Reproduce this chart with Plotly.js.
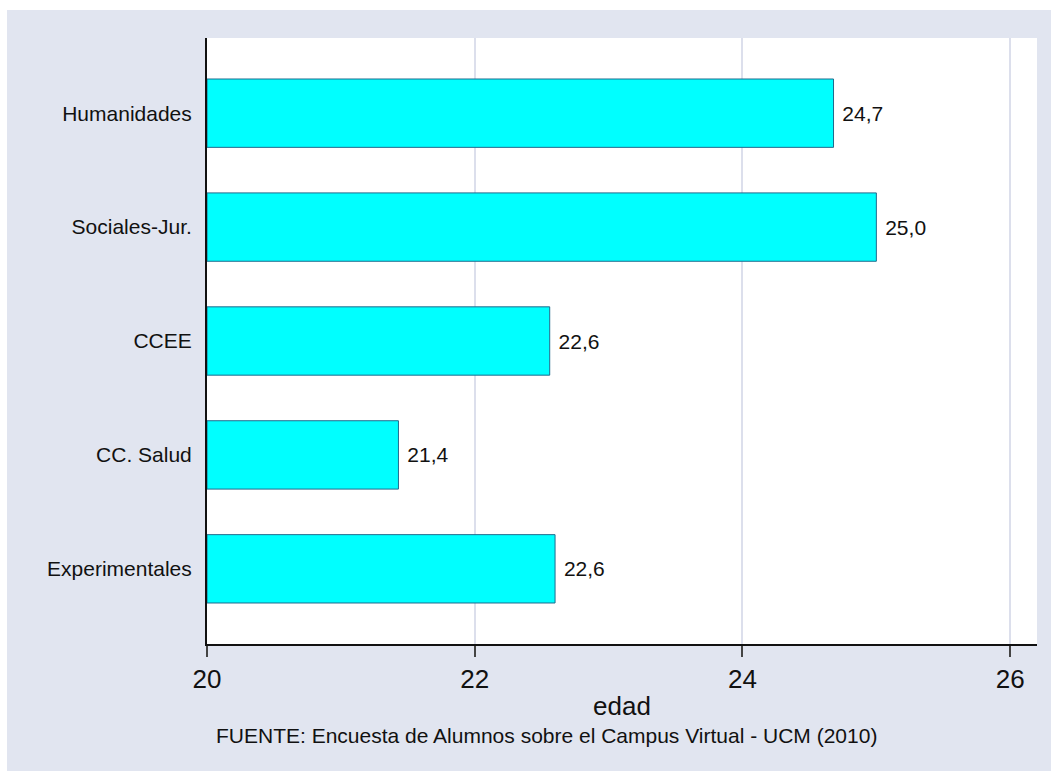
<!DOCTYPE html>
<html>
<head>
<meta charset="utf-8">
<script src="https://cdn.plot.ly/plotly-3.0.1.min.js"></script>
<style>html,body{margin:0;padding:0;background:#fff;}#chart{width:1051px;height:771px;}</style>
</head>
<body>
<div id="chart"></div>
<script>
const categories = ["Humanidades", "Sociales-Jur.", "CCEE", "CC. Salud", "Experimentales"];
const edadValues = [24.68, 25.0, 22.56, 21.43, 22.6];
const edadLabels = ["24,7", "25,0", "22,6", "21,4", "22,6"];
const xTicks = [20, 22, 24, 26];
const sourceNote = "FUENTE: Encuesta de Alumnos sobre el Campus Virtual - UCM (2010)";

const font = "Liberation Sans, Arial, sans-serif";

const trace = {
  type: "bar",
  orientation: "h",
  y: categories,
  x: edadValues,
  base: 20,
  text: edadLabels.map(t => "\u00a0" + t),
  textposition: "outside",
  constraintext: "none",
  cliponaxis: false,
  textfont: {family: font, size: 21, color: "#111"},
  marker: {color: "#00FFFF", line: {color: "#1F6A8C", width: 1}},
  width: 0.6,
  hoverinfo: "skip"
};
trace.x = edadValues.map(v => v - 20);

const layout = {
  width: 1051, height: 771, autosize: false,
  margin: {l: 207, r: 14, t: 38, b: 127, pad: 0},
  paper_bgcolor: "#E1E5F0",
  plot_bgcolor: "#FFFFFF",
  showlegend: false,
  font: {family: font, color: "#111"},
  xaxis: {
    range: [20, 26.2],
    tickvals: xTicks,
    ticktext: xTicks.map(String),
    tickfont: {family: font, size: 26, color: "#111"},
    ticks: "outside", ticklen: 11, tickwidth: 2, tickcolor: "#444",
    showgrid: true, gridcolor: "#DCDFEC", gridwidth: 2,
    showline: true, linecolor: "#111", linewidth: 2,
    zeroline: false,
    title: {text: "edad", font: {family: font, size: 26, color: "#111"}, standoff: 4}
  },
  yaxis: {
    type: "category",
    range: [4.66, -0.66],
    tickfont: {family: font, size: 21, color: "#111"},
    ticks: "", ticklabelstandoff: 9,
    showgrid: false,
    showline: true, linecolor: "#111", linewidth: 2,
    zeroline: false
  },
  shapes: [
    {type: "rect", xref: "paper", yref: "paper", x0: -0.3, x1: -0.24096, y0: -0.3, y1: 1.2, fillcolor: "#FFFFFF", line: {width: 0}, layer: "below"},
    {type: "rect", xref: "paper", yref: "paper", x0: -0.3, x1: 1.1, y0: 1.0462, y1: 1.2, fillcolor: "#FFFFFF", line: {width: 0}, layer: "below"}
  ],
  annotations: [
    {text: sourceNote, xref: "paper", yref: "paper", x: 0.409, y: (644 - 735) / 606,
     xanchor: "center", yanchor: "middle", showarrow: false,
     font: {family: font, size: 21, color: "#111"}}
  ]
};

// bars start at 20 via base
trace.base = 20;
Plotly.newPlot("chart", [trace], layout, {displayModeBar: false, staticPlot: true});
</script>
</body>
</html>
